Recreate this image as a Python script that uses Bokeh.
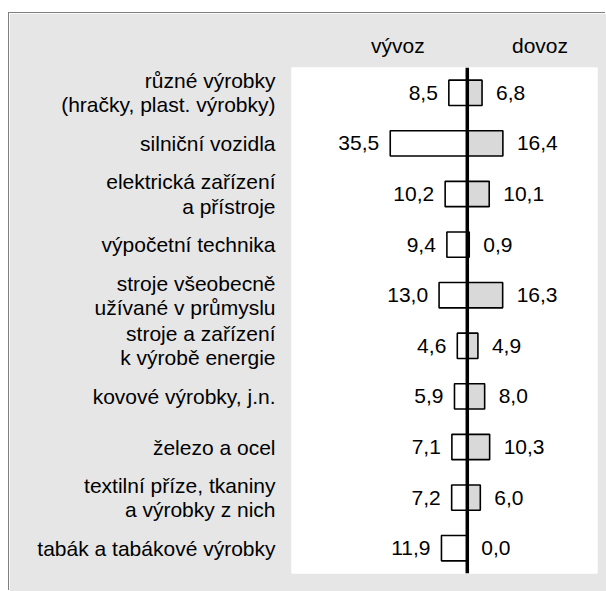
from bokeh.plotting import figure
from bokeh.models import FactorRange, Range1d, Span, LinearAxis, FixedTicker, ColumnDataSource
from bokeh.core.properties import value
from bokeh.embed import file_html
from bokeh.resources import INLINE

categories = [
    "různé výrobky\n(hračky, plast. výrobky)",
    "silniční vozidla",
    "elektrická zařízení\na přístroje",
    "výpočetní technika",
    "stroje všeobecně\nužívané v průmyslu",
    "stroje a zařízení\nk výrobě energie",
    "kovové výrobky, j.n.",
    "železo a ocel",
    "textilní příze, tkaniny\na výrobky z nich",
    "tabák a tabákové výrobky",
]
vyvoz = [8.5, 35.5, 10.2, 9.4, 13.0, 4.6, 5.9, 7.1, 7.2, 11.9]
dovoz = [6.8, 16.4, 10.1, 0.9, 16.3, 4.9, 8.0, 10.3, 6.0, 0.0]
headers = ["vývoz", "dovoz"]

FONT = "Liberation Sans"
FS = "21px"
HEADER_TICKS = [-32.0, 33.5]


def fmt(v):
    return f"{v:.1f}".replace(".", ",")


src = ColumnDataSource(dict(
    cat=categories,
    neg=[-v for v in vyvoz],
    dovoz=dovoz,
    vl=[fmt(v) for v in vyvoz],
    dl=[fmt(v) for v in dovoz],
))

p = figure(
    width=597, height=578,
    y_range=FactorRange(factors=categories[::-1]),
    x_range=Range1d(-81, 60),
    output_backend="svg", toolbar_location=None,
    x_axis_location=None,
    min_border_left=282, min_border_right=9,
    min_border_top=54, min_border_bottom=18,
    background_fill_color="white",
    border_fill_color="#e6e6e6",
    outline_line_color=None,
    styles={"margin-left": "9px", "margin-top": "13px",
            "box-shadow": "-1px -1px 0 0 #808080"},
)
p.xgrid.grid_line_color = None
p.ygrid.grid_line_color = None

ya = p.yaxis[0]
ya.axis_line_color = None
ya.major_tick_line_color = None
ya.minor_tick_line_color = None
ya.major_label_standoff = 10
ya.major_label_text_font = FONT
ya.major_label_text_font_size = FS
ya.major_label_text_color = "black"
ya.major_label_text_line_height = 1.05

top = LinearAxis(
    ticker=FixedTicker(ticks=HEADER_TICKS),
    major_label_overrides={HEADER_TICKS[0]: headers[0], HEADER_TICKS[1]: headers[1]},
    axis_line_color=None, major_tick_line_color=None, minor_tick_line_color=None,
    major_label_standoff=5,
    major_label_text_font=FONT, major_label_text_font_size=FS,
    major_label_text_color="black",
)
p.add_layout(top, "above")

p.hbar(y="cat", left="neg", right=0, height=0.5, source=src,
       fill_color="white", line_color="black", line_width=1.6)
p.hbar(y="cat", left=0, right="dovoz", height=0.5, source=src,
       fill_color="#d9d9d9", line_color="black", line_width=1.6)

p.text(x="neg", y="cat", text="vl", source=src, x_offset=-11,
       text_align="right", text_baseline="middle",
       text_font=value(FONT), text_font_size=FS, text_color="black")
p.text(x="dovoz", y="cat", text="dl", source=src, x_offset=14,
       text_align="left", text_baseline="middle",
       text_font=value(FONT), text_font_size=FS, text_color="black")

p.add_layout(Span(location=0, dimension="height", line_color="black", line_width=3.5))

open("out.html", "w").write(file_html(p, INLINE))
